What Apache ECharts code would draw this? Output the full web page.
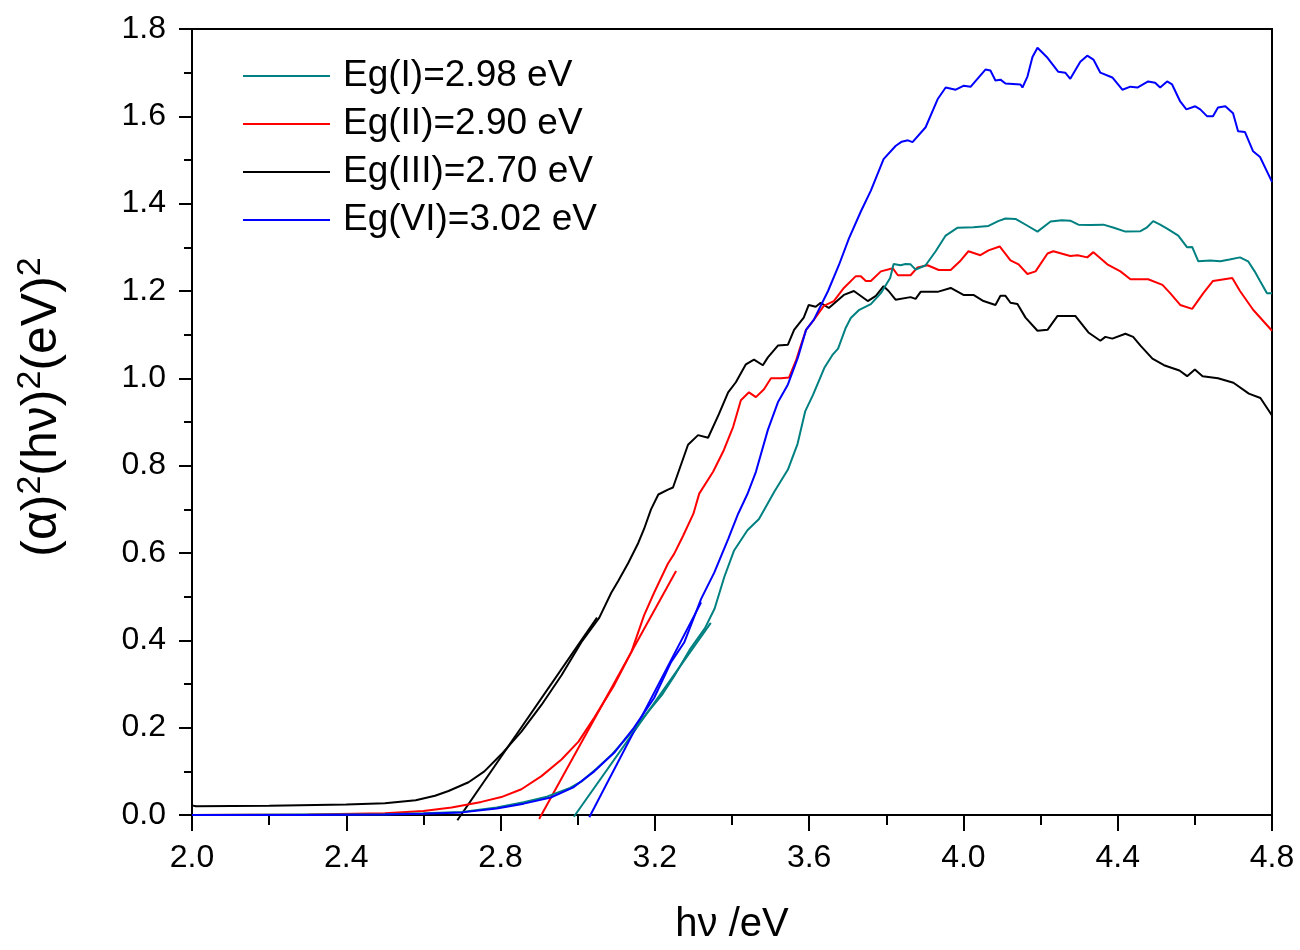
<!DOCTYPE html>
<html>
<head>
<meta charset="utf-8">
<script src="https://cdn.jsdelivr.net/npm/echarts@6/dist/echarts.min.js"></script>
<style>
  html, body { margin: 0; padding: 0; background: #fff; }
  #chart { width: 1300px; height: 950px; }
</style>
</head>
<body>
<div id="chart"></div>
<script>
// ---- Data ----
const xTicks = [2.0, 2.4, 2.8, 3.2, 3.6, 4.0, 4.4, 4.8];
const yTicks = [0.0, 0.2, 0.4, 0.6, 0.8, 1.0, 1.2, 1.4, 1.6, 1.8];
const seriesNames = ['Eg(I)=2.98 eV', 'Eg(II)=2.90 eV', 'Eg(III)=2.70 eV', 'Eg(VI)=3.02 eV'];

const curveI = [
  [2.0,0.0],[2.3,0.001],[2.5,0.002],[2.6,0.004],[2.7,0.007],[2.79,0.017],[2.86,0.029],[2.92,0.042],
  [2.98,0.062],[3.01,0.077],[3.05,0.107],[3.09,0.140],[3.15,0.200],[3.18,0.234],[3.22,0.277],[3.25,0.318],
  [3.29,0.378],[3.33,0.428],[3.355,0.473],[3.38,0.545],[3.405,0.605],[3.44,0.652],[3.47,0.678],[3.51,0.741],
  [3.545,0.791],[3.57,0.850],[3.59,0.925],[3.61,0.962],[3.64,1.025],[3.66,1.053],[3.675,1.068],[3.695,1.116],
  [3.708,1.138],[3.73,1.157],[3.76,1.170],[3.786,1.195],[3.81,1.230],[3.819,1.262],[3.837,1.259],[3.85,1.262],
  [3.863,1.261],[3.876,1.249],[3.902,1.259],[3.928,1.291],[3.954,1.327],[3.985,1.345],[4.026,1.346],[4.065,1.349],
  [4.09,1.360],[4.109,1.366],[4.135,1.365],[4.165,1.350],[4.192,1.336],[4.226,1.359],[4.255,1.362],[4.277,1.361],
  [4.298,1.352],[4.33,1.351],[4.363,1.352],[4.39,1.345],[4.42,1.336],[4.459,1.337],[4.475,1.345],[4.492,1.360],
  [4.51,1.352],[4.528,1.343],[4.557,1.327],[4.58,1.300],[4.593,1.301],[4.609,1.268],[4.64,1.270],[4.666,1.268],
  [4.69,1.272],[4.717,1.277],[4.738,1.268],[4.755,1.245],[4.769,1.223],[4.787,1.195],[4.8,1.195]
];
const curveII = [
  [2.0,0.0],[2.3,0.001],[2.5,0.004],[2.6,0.009],[2.673,0.017],[2.75,0.030],[2.802,0.041],[2.854,0.059],
  [2.906,0.089],[2.958,0.127],[3.002,0.168],[3.043,0.223],[3.095,0.298],[3.139,0.373],[3.172,0.457],[3.198,0.509],
  [3.234,0.576],[3.25,0.598],[3.273,0.639],[3.30,0.690],[3.315,0.736],[3.351,0.786],[3.379,0.836],[3.403,0.889],
  [3.423,0.950],[3.444,0.968],[3.462,0.957],[3.483,0.975],[3.501,1.0],[3.527,1.0],[3.548,1.002],[3.566,1.041],
  [3.579,1.077],[3.592,1.111],[3.612,1.134],[3.638,1.166],[3.664,1.177],[3.69,1.207],[3.721,1.234],[3.734,1.234],
  [3.747,1.223],[3.76,1.223],[3.786,1.245],[3.817,1.252],[3.83,1.236],[3.863,1.236],[3.881,1.254],[3.907,1.259],
  [3.936,1.248],[3.967,1.248],[3.993,1.270],[4.013,1.291],[4.044,1.282],[4.065,1.293],[4.094,1.302],[4.122,1.270],
  [4.143,1.261],[4.166,1.239],[4.187,1.245],[4.218,1.286],[4.233,1.291],[4.277,1.280],[4.296,1.282],[4.321,1.277],
  [4.337,1.289],[4.373,1.261],[4.407,1.245],[4.433,1.227],[4.479,1.227],[4.516,1.214],[4.536,1.195],[4.562,1.168],
  [4.593,1.159],[4.622,1.195],[4.647,1.223],[4.697,1.230],[4.717,1.200],[4.751,1.157],[4.8,1.109]
];
const curveIII = [
  [2.0,0.022],[2.01,0.020],[2.2,0.021],[2.4,0.024],[2.5,0.027],[2.58,0.034],[2.63,0.044],[2.665,0.055],
  [2.717,0.075],[2.758,0.100],[2.802,0.139],[2.854,0.191],[2.906,0.252],[2.958,0.320],[3.009,0.395],[3.056,0.452],
  [3.087,0.509],[3.105,0.536],[3.131,0.577],[3.157,0.623],[3.172,0.655],[3.19,0.700],[3.209,0.734],[3.234,0.745],
  [3.247,0.750],[3.286,0.848],[3.312,0.870],[3.338,0.864],[3.366,0.918],[3.39,0.968],[3.41,0.991],[3.436,1.032],
  [3.457,1.043],[3.48,1.030],[3.493,1.048],[3.519,1.075],[3.545,1.077],[3.561,1.111],[3.586,1.139],[3.599,1.168],
  [3.617,1.164],[3.630,1.173],[3.651,1.161],[3.690,1.191],[3.716,1.200],[3.752,1.177],[3.773,1.189],[3.793,1.211],
  [3.806,1.200],[3.824,1.180],[3.863,1.186],[3.876,1.182],[3.889,1.198],[3.933,1.198],[3.967,1.207],[4.0,1.191],
  [4.026,1.191],[4.052,1.177],[4.083,1.168],[4.096,1.189],[4.109,1.189],[4.122,1.173],[4.14,1.170],[4.161,1.139],
  [4.192,1.109],[4.218,1.111],[4.244,1.143],[4.29,1.143],[4.324,1.105],[4.355,1.086],[4.368,1.095],[4.386,1.091],
  [4.42,1.102],[4.44,1.095],[4.459,1.075],[4.49,1.045],[4.52,1.030],[4.56,1.018],[4.58,1.005],[4.60,1.020],
  [4.62,1.005],[4.66,1.000],[4.70,0.990],[4.74,0.965],[4.77,0.955],[4.8,0.915]
];
const curveVI = [
  [2.0,0.0],[2.3,0.0],[2.5,0.001],[2.6,0.003],[2.7,0.006],[2.79,0.015],[2.86,0.026],[2.93,0.040],
  [2.99,0.064],[3.043,0.100],[3.095,0.143],[3.146,0.200],[3.198,0.268],[3.242,0.350],[3.276,0.395],[3.32,0.495],
  [3.354,0.555],[3.39,0.632],[3.416,0.690],[3.44,0.735],[3.462,0.786],[3.493,0.882],[3.519,0.945],[3.545,0.986],
  [3.571,1.048],[3.592,1.111],[3.612,1.134],[3.649,1.200],[3.677,1.259],[3.703,1.320],[3.734,1.382],[3.76,1.430],
  [3.793,1.502],[3.824,1.532],[3.84,1.542],[3.856,1.545],[3.868,1.541],[3.902,1.575],[3.933,1.639],[3.954,1.666],
  [3.98,1.661],[4.0,1.670],[4.019,1.668],[4.057,1.707],[4.07,1.705],[4.083,1.682],[4.096,1.684],[4.109,1.675],
  [4.148,1.673],[4.153,1.666],[4.166,1.691],[4.179,1.736],[4.192,1.757],[4.218,1.734],[4.246,1.702],[4.264,1.700],
  [4.277,1.686],[4.303,1.725],[4.321,1.739],[4.337,1.730],[4.355,1.700],[4.386,1.689],[4.412,1.661],[4.433,1.668],
  [4.451,1.666],[4.479,1.680],[4.497,1.677],[4.51,1.666],[4.528,1.680],[4.541,1.673],[4.562,1.634],[4.578,1.616],
  [4.601,1.623],[4.614,1.616],[4.632,1.600],[4.647,1.600],[4.660,1.620],[4.679,1.623],[4.699,1.607],[4.712,1.566],
  [4.730,1.564],[4.751,1.520],[4.769,1.507],[4.8,1.450]
];

// Linear fits (band-gap extrapolation lines)
const fitI   = [[2.99, -0.004], [3.345, 0.440]];
const fitII  = [[2.90, -0.009], [3.255, 0.559]];
const fitIII = [[2.688, -0.012], [3.05, 0.452]];
const fitVI  = [[3.03, -0.005], [3.32, 0.487]];

const colors = ['#008080', '#ff0000', '#000000', '#0000ff'];

// ---- Chart ----
const chart = echarts.init(document.getElementById('chart'), null, { renderer: 'canvas' });
const FONT = '"Liberation Sans", Arial, sans-serif';

function curve(name, data, color) {
  return { name, type: 'line', data, symbol: 'none', smooth: false,
    lineStyle: { color, width: 2 }, itemStyle: { color }, z: 3 };
}
function fit(name, data, color) {
  return { name, type: 'line', data, symbol: 'none', clip: false,
    lineStyle: { color, width: 2 }, itemStyle: { color }, z: 2, silent: true };
}

const option = {
  backgroundColor: '#ffffff',
  animation: false,
  textStyle: { fontFamily: FONT, color: '#000' },
  grid: { left: 192, right: 28, top: 29, bottom: 129, show: true,
          borderColor: '#000', borderWidth: 2, backgroundColor: 'transparent' },
  legend: {
    data: seriesNames,
    orient: 'vertical', left: 243, top: 56, padding: 0,
    icon: 'rect', itemWidth: 87, itemHeight: 2, itemGap: 8,
    textStyle: { fontFamily: FONT, fontSize: 37, color: '#000', lineHeight: 40, padding: [0, 0, 0, 8] }
  },
  xAxis: {
    type: 'value', min: xTicks[0], max: xTicks[xTicks.length - 1], interval: 0.4,
    name: 'hν /eV', nameLocation: 'middle', nameGap: 90,
    nameTextStyle: { fontFamily: FONT, fontSize: 40, color: '#000' },
    axisLine: { show: true, onZero: false, lineStyle: { color: '#000', width: 2 } },
    axisTick: { show: true, inside: false, length: 16, lineStyle: { color: '#000', width: 2 } },
    minorTick: { show: true, splitNumber: 2, length: 10, lineStyle: { color: '#000', width: 2 } },
    axisLabel: { fontFamily: FONT, fontSize: 32, color: '#000', margin: 27,
      formatter: v => v.toFixed(1) },
    splitLine: { show: false }
  },
  yAxis: {
    type: 'value', min: yTicks[0], max: yTicks[yTicks.length - 1], interval: 0.2,
    name: '{b|(α)}{s|2}{b|(hν)}{s|2}{b|(eV)}{s|2}',
    nameLocation: 'middle', nameGap: 122, nameRotate: 90,
    nameTextStyle: { fontFamily: FONT, color: '#000', padding: [0, 0, 0, 30],
      rich: {
        b: { fontFamily: FONT, fontSize: 50, lineHeight: 56, color: '#000' },
        s: { fontFamily: FONT, fontSize: 34, lineHeight: 34, verticalAlign: 'top', color: '#000' }
      } },
    axisLine: { show: true, lineStyle: { color: '#000', width: 2 } },
    axisTick: { show: true, inside: false, length: 13, lineStyle: { color: '#000', width: 2 } },
    minorTick: { show: true, splitNumber: 2, length: 8, lineStyle: { color: '#000', width: 2 } },
    axisLabel: { fontFamily: FONT, fontSize: 32, color: '#000', margin: 26,
      formatter: v => v.toFixed(1) },
    splitLine: { show: false }
  },
  series: [
    fit('fit I', fitI, colors[0]),
    fit('fit II', fitII, colors[1]),
    fit('fit III', fitIII, colors[2]),
    fit('fit VI', fitVI, colors[3]),
    curve(seriesNames[2], curveIII, colors[2]),
    curve(seriesNames[1], curveII, colors[1]),
    curve(seriesNames[0], curveI, colors[0]),
    curve(seriesNames[3], curveVI, colors[3])
  ]
};
chart.setOption(option);
</script>
</body>
</html>
